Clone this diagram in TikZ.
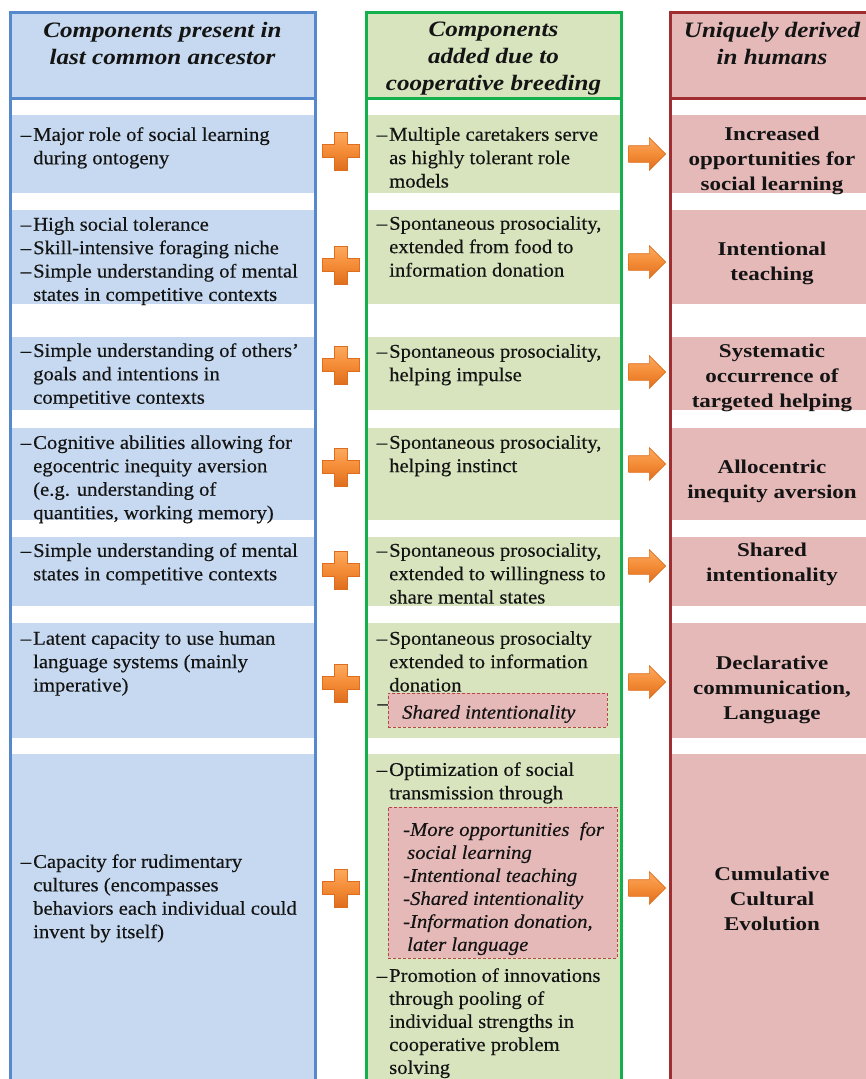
\documentclass[tikz,border=0pt]{standalone}
\usepackage{fontspec}
\setmainfont{Liberation Serif}[FakeStretch=1.06, FakeBold=0.35]
\newfontfamily\headfont{Liberation Serif}[FakeStretch=1.14]
\newfontfamily\outfont{Liberation Serif}[FakeStretch=1.18]
\usetikzlibrary{shapes.arrows}

\definecolor{txt}{RGB}{20,20,20}
\definecolor{blueBorder}{RGB}{86,136,205}
\definecolor{blueFill}{RGB}{198,217,240}
\definecolor{greenBorder}{RGB}{20,176,75}
\definecolor{greenFill}{RGB}{216,228,190}
\definecolor{redBorder}{RGB}{160,45,48}
\definecolor{redFill}{RGB}{230,185,185}
\definecolor{boxEdge}{RGB}{185,70,70}
\definecolor{orangeLight}{RGB}{252,170,95}
\definecolor{orangeMain}{RGB}{244,140,55}
\definecolor{orangeDark}{RGB}{222,110,30}

\newcommand\itemdash{\llap{\textendash\hspace{2pt}}}

\tikzset{
  body/.style={anchor=north west, inner sep=0pt, align=left, text=txt, yshift=-6pt,
    font=\fontsize{19.5}{23.4}\selectfont},
  outtext/.style={anchor=north, inner sep=0pt, align=center, text=txt, yshift=-7pt,
    font=\outfont\bfseries\fontsize{19.5}{24.8}\selectfont},
  headtext/.style={anchor=north, inner sep=0pt, align=center, text=txt, yshift=-7pt,
    font=\headfont\bfseries\itshape\fontsize{22}{27}\selectfont},
  ibox/.style={anchor=north west, draw=boxEdge, densely dashed, line width=0.8pt,
    fill=redFill, inner sep=0pt},
  itext/.style={anchor=north west, inner sep=0pt, align=left, text=txt, yshift=-6pt,
    font=\itshape\fontsize{19.5}{23}\selectfont},
  arr/.style={single arrow, single arrow head extend=8pt, text height=8pt, text depth=8pt,
    minimum height=37pt, inner sep=0pt, draw=orangeDark, line width=0.6pt,
    top color=orangeLight, bottom color=orangeDark, middle color=orangeMain},
  plussign/.pic={
    \shade[top color=orangeLight, bottom color=orangeDark, middle color=orangeMain,
      draw=orangeDark, line width=0.6pt]
      (-18.5,-6.5) -- (-6.5,-6.5) -- (-6.5,-19) -- (6.5,-19) -- (6.5,-6.5)
      -- (18.5,-6.5) -- (18.5,6.5) -- (6.5,6.5) -- (6.5,19) -- (-6.5,19)
      -- (-6.5,6.5) -- (-18.5,6.5) -- cycle;
  }
}

\begin{document}
\begin{tikzpicture}[x=1pt,y=-1pt]
\useasboundingbox (0,0) rectangle (866,1079);
\clip (0,0) rectangle (866,1079);
\fill[white] (0,0) rectangle (866,1079);

% column headers
\fill[blueFill]  (10,12) rectangle (315,98);
\fill[greenFill] (366,12) rectangle (621,98);
\fill[redFill]   (670,12) rectangle (890,98);

% row bands
\foreach \ya/\yb in {115/193, 210/304, 337/410, 428/520, 537/606, 623/738, 754/1090}{
  \fill[blueFill]  (10,\ya) rectangle (315,\yb);
  \fill[greenFill] (366,\ya) rectangle (621,\yb);
  \fill[redFill]   (670,\ya) rectangle (890,\yb);
}

% column frames
\draw[blueBorder, line width=3pt] (10,1090) -- (10,12) -- (315,12) -- (315,1090);
\draw[blueBorder, line width=3pt] (10,98) -- (315,98);
\draw[greenBorder, line width=3pt] (366,1090) -- (366,12) -- (621,12) -- (621,1090);
\draw[greenBorder, line width=3pt] (366,98) -- (621,98);
\draw[redBorder, line width=3pt] (670,1090) -- (670,12) -- (890,12);
\draw[redBorder, line width=3pt] (670,98) -- (890,98);

% headers
\node[headtext] (hL) at (162.5,15) {Components present in\\last common ancestor};
\node[headtext] (hM) at (493.5,15) {Components\\added due to\\cooperative breeding};
\node[headtext] (hR) at (772,15) {Uniquely derived\\in humans};

% ancestral components
\node[body] (L1) at (33,121) {\itemdash Major role of social learning\\during ontogeny};
\node[body] (L2) at (33,211) {\itemdash High social tolerance\\\itemdash Skill-intensive foraging niche\\\itemdash Simple understanding of mental\\states in competitive contexts};
\node[body] (L3) at (33,337) {\itemdash Simple understanding of others'\\goals and intentions in\\competitive contexts};
\node[body] (L4) at (33,429) {\itemdash Cognitive abilities allowing for\\egocentric inequity aversion\\(e.g. understanding of\\quantities, working memory)};
\node[body] (L5) at (33,537) {\itemdash Simple understanding of mental\\states in competitive contexts};
\node[body] (L6) at (33,625) {\itemdash Latent capacity to use human\\language systems (mainly\\imperative)};
\node[body] (L7) at (33,848) {\itemdash Capacity for rudimentary\\cultures (encompasses\\behaviors each individual could\\invent by itself)};

% cooperative breeding components
\node[body] (M1) at (389,121) {\itemdash Multiple caretakers serve\\as highly tolerant role\\models};
\node[body] (M2) at (389,210) {\itemdash Spontaneous prosociality,\\extended from food to\\information donation};
\node[body] (M3) at (389,338) {\itemdash Spontaneous prosociality,\\helping impulse};
\node[body] (M4) at (389,429) {\itemdash Spontaneous prosociality,\\helping instinct};
\node[body] (M5) at (389,537) {\itemdash Spontaneous prosociality,\\extended to willingness to\\share mental states};
\node[body] (M6) at (389,625) {\itemdash Spontaneous prosocialty\\extended to information\\donation};
\node[ibox, minimum width=219pt, minimum height=34pt] (B1) at (388,693) {};
\node[itext, anchor=west, yshift=2pt] (B1t) at (402,710) {Shared intentionality};
\node[anchor=east, inner sep=0pt, text=txt, font=\fontsize{19.5}{23.4}\selectfont] (d6) at (388,707) {\textendash};
\node[body] (M7) at (389,756) {\itemdash Optimization of social\\transmission through};
\node[ibox, minimum width=229pt, minimum height=151pt] (B2) at (388,807) {};
\node[itext] (B2t) at (403,816) {-More opportunities\ \ for\\\hspace*{4pt}social learning\\-Intentional teaching\\-Shared intentionality\\-Information donation,\\\hspace*{4pt}later language};
\node[body, font=\fontsize{19.5}{23}\selectfont] (M8) at (389,962) {\itemdash Promotion of innovations\\through pooling of\\individual strengths in\\cooperative problem\\solving};

% human-specific outcomes
\node[outtext] (R1) at (772,120) {Increased\\opportunities for\\social learning};
\node[outtext] (R2) at (772,235) {Intentional\\teaching};
\node[outtext] (R3) at (772,337) {Systematic\\occurrence of\\targeted helping};
\node[outtext] (R4) at (772,453) {Allocentric\\inequity aversion};
\node[outtext] (R5) at (772,536) {Shared\\intentionality};
\node[outtext] (R6) at (772,649) {Declarative\\communication,\\Language};
\node[outtext] (R7) at (772,860) {Cumulative\\Cultural\\Evolution};

% plus signs between the first two columns
\foreach \i/\y in {1/151, 2/265, 3/365, 4/467, 5/570, 6/683, 7/888}{
  \pic (plus\i) at (341,\y) {plussign};
}

% arrows into the derived traits
\foreach \i/\y in {1/154, 2/262, 3/372, 4/464, 5/566, 6/682, 7/888}{
  \node[arr] (arr\i) at (643,\y) {};
}
\end{tikzpicture}
\end{document}
